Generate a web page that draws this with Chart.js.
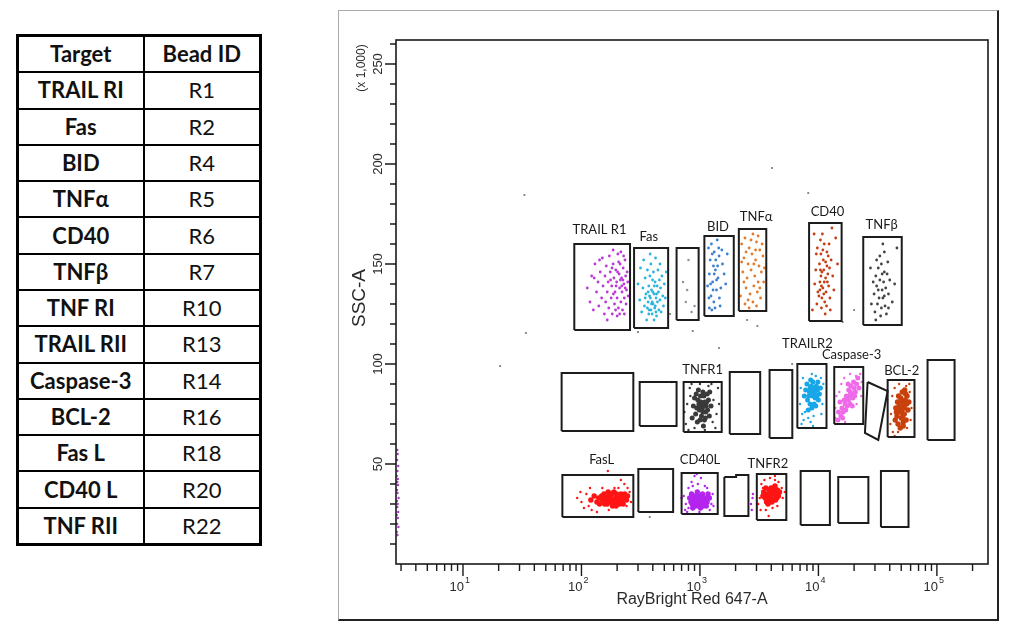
<!DOCTYPE html>
<html>
<head>
<meta charset="utf-8">
<script src="https://cdn.jsdelivr.net/npm/chart.js@4.4.1/dist/chart.umd.min.js"></script>
<style>
    html, body { margin: 0; padding: 0; background: #fff; }
    body { width: 1011px; height: 636px; position: relative; overflow: hidden; font-family: Lato, "Open Sans", sans-serif; }
    #beads { position: absolute; left: 16px; top: 34px; width: 243px; height: 512px; border-collapse: collapse; border: 3px solid #000; table-layout: fixed; }
    #beads td { border: 2px solid #000; text-align: center; padding: 0; height: 34px; font-size: 22px; color: #111; line-height: 1; }
    #beads td.t { font-weight: 700; }
    #frame { position: absolute; left: 338px; top: 10px; width: 661px; height: 611px; box-sizing: border-box; border-left: 1px solid #aaa; border-top: 1px solid #aaa; border-right: 2px solid #222; border-bottom: 2px solid #222; }
    #wrap { position: absolute; left: 338px; top: 10px; width: 661px; height: 611px; }
</style>
</head>
<body>
<table id="beads"></table>
<div id="frame"></div>
<div id="wrap"><canvas id="plot"></canvas></div>
<script>
// table
const targets = ['TRAIL RI', 'Fas', 'BID', 'TNFα', 'CD40', 'TNFβ', 'TNF RI', 'TRAIL RII', 'Caspase-3', 'BCL-2', 'Fas L', 'CD40 L', 'TNF RII'];
const beadIds = ['R1', 'R2', 'R4', 'R5', 'R6', 'R7', 'R10', 'R13', 'R14', 'R16', 'R18', 'R20', 'R22'];

// axes
const xMin = 2.72, xMax = 270000;
const yMin = 0, yMax = 262;
const xMajorTicks = [10, 100, 1000, 10000, 100000];
const xTickExp = ['1', '2', '3', '4', '5'];
const yMajorTicks = [50, 100, 150, 200, 250];
const yTickLabels = ['50', '100', '150', '200', '250'];
const yMinorTicks = [10, 20, 30, 40, 60, 70, 80, 90, 110, 120, 130, 140, 160, 170, 180, 190, 210, 220, 230, 240, 260];
const xTitle = 'RayBright Red 647-A';
const yTitle = 'SSC-A';
const yUnit = '(x 1,000)';

// gates [xLow, xHigh, yLow, yHigh]
const gateBoxes = [
    [87, 257, 117, 160], [278, 539, 118, 158], [635, 975, 122, 158], [1090, 1930, 124, 164],
    [2130, 3630, 126.5, 167.5], [8340, 15700, 121.5, 170.5], [23900, 50500, 119.5, 163.5],
    [68, 274, 66.5, 95.5], [310, 635, 69, 91], [728, 1527, 66, 91], [1785, 3225, 65, 96],
    [3870, 6020, 63, 97], [6640, 11700, 68, 100], [13600, 23900, 70, 98.5], [38400, 64700, 63.5, 92],
    [83400, 141000, 62, 102],
    [69, 274, 23.5, 44.5], [302, 594, 26, 47.5], [700, 1413, 25, 45.5], [3020, 5360, 22, 45],
    [7080, 12500, 19.5, 46.5], [14700, 26400, 20.5, 43.5], [33700, 57600, 18.5, 46.5]
];
const gatePolys = [
    [[26000, 91], [38400, 86.5], [32000, 62], [24700, 65.5]],
    [[1607, 43.5], [2020, 43.5], [2020, 44.5], [2566, 44.5], [2566, 24], [1607, 24]]
];
const gateLabels = ['TRAIL R1', 'Fas', 'BID', 'TNFα', 'CD40', 'TNFβ', 'TNFR1', 'TRAILR2', 'Caspase-3', 'BCL-2', 'FasL', 'CD40L', 'TNFR2'];
const gateLabelX = [142, 370, 1421, 2983, 11920, 34190, 1054, 8070, 19050, 50500, 148, 1000, 3748];
const gateLabelY = [167, 163.5, 168.5, 173.5, 176, 169.5, 97.3, 110.3, 104.5, 96.6, 52, 52, 50.3];

// events [x, y]
const trailR1Events = [[112,138],[118,131],[122,144],[126,127],[130,150],[134,136],[138,141],[140,129],[144,146],[148,133],[150,153],[152,139],[156,125],[158,144],[160,131],[162,149],[165,136],[168,141],[170,128],[172,154],[175,146],[178,133],[180,139],[182,125],[185,150],[188,143],[190,130],[192,136],[195,147],[198,141],[200,133],[203,155],[205,128],[208,145],[210,138],[212,150],[215,131],[218,143],[220,136],[222,127],[225,148],[228,140],[230,133],[233,152],[236,144],[238,130],[240,137],[243,146],[246,141],[248,134],[185,157],[165,122],[200,124],[215,156],[142,152],[128,143],[210,125],[230,125],[196,139],[224,142],[206,151],[176,142],[186,135],[202,146],[219,139],[234,138],[194,127],[227,154],[181,148],[213,142]];
const fasEvents = [[300,140],[310,132],[315,148],[322,126],[330,138],[335,152],[340,129],[345,143],[350,135],[355,122],[360,147],[365,131],[370,139],[372,127],[378,144],[382,133],[385,150],[390,137],[395,125],[398,142],[402,130],[405,146],[410,135],[415,128],[418,141],[422,153],[426,133],[430,124],[435,139],[438,131],[442,147],[446,136],[450,127],[455,142],[460,132],[465,138],[470,126],[478,144],[485,134],[492,129],[500,140],[510,133],[520,146],[360,128],[390,130],[410,122],[370,125],[430,135],[400,136],[345,133],[420,129],[380,155],[460,150],[375,134],[395,131],[412,139],[386,127],[425,126],[366,136]];
const gate3Events = [[720,141],[760,131],[800,152],[850,126],[780,137],[900,129]];
const bidEvents = [[1180,158],[1250,160],[1320,156],[1400,162],[1220,152],[1300,149],[1450,154],[1200,145],[1350,147],[1280,141],[1420,143],[1160,139],[1380,137],[1240,134],[1310,131],[1460,133],[1200,128],[1340,128],[1500,138],[1550,150],[1600,145],[1270,155],[1440,158],[1360,152],[1230,140],[1480,129],[1290,137],[1410,149],[1190,133],[1530,157],[1650,140],[1700,155],[1260,127],[1380,142],[1320,145]];
const tnfaEvents = [[2250,160],[2400,163],[2600,158],[2800,165],[3000,161],[3200,157],[2350,153],[2550,150],[2750,155],[2950,152],[3150,149],[3400,154],[2300,146],[2500,143],[2700,147],[2900,144],[3100,141],[3300,146],[2450,138],[2650,135],[2850,139],[3050,136],[3250,133],[2200,134],[2400,130],[2600,128],[2800,131],[3000,129],[3200,138],[3450,141],[2350,141],[2950,157],[2700,162],[3350,160],[2550,132],[3100,164],[2250,151],[3500,148],[2850,150],[2450,156]];
const cd40Events = [[9800,158],[10500,155],[11200,160],[10200,150],[11000,152],[11800,149],[10700,146],[11500,143],[10300,141],[12000,145],[10900,138],[11600,136],[10100,134],[11300,131],[12200,139],[10600,128],[11400,125],[12500,133],[10400,162],[11800,156],[9500,147],[12800,152],[9300,140],[13200,144],[9700,130],[12600,127],[10800,165],[12300,160],[9900,136],[11900,141],[10700,133],[11100,147],[12100,154],[9600,155],[13500,137],[8900,127],[14500,150],[14000,163],[9200,165],[13000,168],[10500,144],[11700,129],[10300,137],[12400,148],[11200,141],[10900,157],[11500,151],[10400,147],[11100,135],[10600,139]];
const tnfbEvents = [[32000,148],[34000,150],[36000,146],[30500,144],[33000,142],[35500,141],[38000,145],[31000,139],[34500,137],[37000,138],[29500,135],[32500,133],[35000,133],[39000,135],[31500,130],[34000,128],[36500,129],[30000,126],[33500,124],[37500,125],[29000,141],[40000,142],[33000,154],[36000,156],[31000,152],[38500,151],[28000,130],[42000,131],[35000,160],[30500,122],[39000,128],[44000,140],[27500,148],[46000,158],[34500,145],[32000,137],[36000,134]];

const tnfr1Core = [[1050,78],[980,80],[1120,76],[1180,82],[920,75],[1010,84],[1090,72],[1240,79],[880,79],[1060,86],[950,71],[1150,85],[1030,74],[990,77],[1100,81],[1200,74],[900,83],[1070,69],[970,87],[1130,79],[1020,81],[940,78],[1160,77],[1080,84],[860,73],[1000,72],[1210,86],[1040,80],[930,85],[1110,73],[1060,76],[1000,79],[1140,81],[960,82],[1080,79]];
const tnfr1Halo = [[760,70],[780,80],[820,88],[800,67],[850,90],[1300,82],[1380,75],[1420,88],[1350,68],[1250,90],[740,76],[1450,80],[900,68],[1280,71],[830,84],[1180,89],[1000,90],[1100,67]];
const trailR2Core = [[8900,84],[8400,86],[9400,83],[9800,87],[8100,82],[8700,89],[9200,80],[10200,85],[7800,87],[9000,91],[9600,89],[8500,80],[9300,86],[10000,82],[8000,90],[8800,78],[9500,79],[7600,84],[9100,88],[8300,84],[10400,88],[8600,92],[9700,84],[8200,77],[9900,91],[8800,86],[9200,85],[8500,88]];
const trailR2Halo = [[7300,75],[7500,72],[7200,70],[7800,68],[8200,73],[8600,71],[9100,74],[7000,80],[7100,88],[10800,80],[11000,90],[10500,93],[8800,95],[9500,94],[7400,93],[7700,76],[10600,75],[9000,69]];
const casp3Core = [[17950,82],[16800,80],[19000,85],[20000,88],[15800,78],[17200,84],[18500,80],[21000,90],[16200,76],[18000,87],[19500,83],[15500,74],[17500,79],[20500,86],[16500,82],[18800,89],[14800,76],[19800,91],[17000,77],[21500,93],[15200,81],[18200,84],[16000,73],[20200,84],[17800,90],[22000,88],[14600,72],[19300,79],[17400,82],[18600,86]];
const casp3Halo = [[14000,70],[13900,78],[15000,86],[16500,93],[18500,95],[22500,95],[23000,84],[21000,80],[14200,84],[16800,71],[20800,94],[13800,73],[23200,91],[15600,90]];
const bcl2Core = [[50500,77],[48000,79],[53000,75],[55500,80],[46000,74],[49500,83],[52000,71],[57000,77],[45000,78],[51000,86],[54000,82],[47000,70],[50000,73],[56000,84],[48500,76],[52500,79],[44500,72],[53500,87],[49000,68],[58000,81],[46500,81],[51500,74],[55000,72],[47500,84],[50500,81],[53000,78],[45500,76],[49000,77],[54500,85],[52000,69]];
const bcl2Halo = [[41000,75],[40500,70],[42000,84],[44000,88],[48000,90],[55000,89],[59000,86],[61000,78],[60000,72],[42500,66],[47000,66],[56000,68],[58500,90],[44000,64]];

const fasLCore = [[176,32],[160,33],[190,31],[205,33],[150,32],[220,32],[170,34],[185,30],[198,35],[140,33],[230,33],[165,30],[210,30],[180,35],[155,35],[195,33],[215,35],[172,31],[240,32],[135,31],[225,30],[188,36],[162,32],[200,31],[178,33],[148,34],[208,34],[192,32],[168,36],[232,35],[120,32],[245,34],[183,29],[157,30],[218,33],[128,34],[196,29],[174,35],[212,31],[142,30]];
const fasLHalo = [[100,31],[92,33],[110,35],[105,28],[118,38],[135,26],[255,36],[262,31],[230,40],[215,42],[205,38],[115,29],[98,36],[150,38],[245,38],[122,27],[170,27],[190,38],[240,29],[167,46.5]];
const cd40LCore = [[960,31],[900,32],[1020,30],[1080,32],[860,30],[940,34],[1000,33],[1150,31],[820,33],[980,29],[1050,35],[920,29],[1110,33],[880,34],[990,32],[1060,29],[840,31],[1200,33],[950,36],[1030,31],[910,31],[1130,29],[870,28],[970,34],[1090,30],[930,32],[1010,28],[1170,35],[850,35],[1040,33]];
const cd40LHalo = [[760,30],[730,34],[750,27],[800,38],[850,41],[900,44],[960,40],[1100,39],[1250,30],[1280,35],[1300,29],[780,26],[1020,43],[870,39],[700,33],[1210,27],[1150,38],[990,26],[940,45],[800,28],[2700,30],[2780,33],[2740,27],[2800,35],[580,91]];
const tnfr2Core = [[3920,34],[3700,35],[4150,33],[4400,36],[3550,33],[3850,37],[4050,31],[4600,34],[3450,36],[3980,38],[4250,35],[3650,31],[4350,32],[3800,33],[4100,36],[4500,37],[3600,38],[4000,32],[4300,39],[3750,30],[4200,34],[3500,35],[3900,36],[4450,33],[4050,35],[3700,32],[4150,38],[3850,31],[4700,36],[3400,34]];
const tnfr2Halo = [[3200,33],[3100,30],[3300,40],[3500,42],[3900,43],[4300,44],[4600,41],[4900,38],[5000,33],[5200,36],[3250,27],[3600,27],[4100,28],[4500,29],[3800,24],[4300,42],[3400,38]];

const edgeEvents = [[2.8,14.5],[2.76,16],[2.85,18.5],[2.78,20],[2.82,23],[2.76,24.5],[2.84,26],[2.79,28.5],[2.81,30],[2.77,31.5],[2.86,33],[2.8,35.5],[2.77,37],[2.83,39.5],[2.79,41],[2.82,42.5],[2.76,44],[2.8,46.5],[2.84,49],[2.78,52],[2.81,55],[2.79,57]];
const strayEvents = [[33,184.5],[4050,198],[8200,185.5],[34,115.5],[20.6,99],[1450,108],[3050,119],[870,116.5],[20000,127],[377,23.5],[300,116],[560,125],[16000,121],[6000,100],[2500,122]];

// styles
const populations = [
    { data: trailR1Events, color: '#b93ad6', r: 1.4 },
    { data: fasEvents, color: '#2bb4dc', r: 1.4 },
    { data: gate3Events, color: '#8a8fa0', r: 1.2 },
    { data: bidEvents, color: '#3b80d2', r: 1.4 },
    { data: tnfaEvents, color: '#e27b2c', r: 1.4 },
    { data: cd40Events, color: '#c63d14', r: 1.4 },
    { data: tnfbEvents, color: '#444444', r: 1.4 },
    { data: tnfr1Halo, color: '#3a3a3a', r: 1.2 },
    { data: tnfr1Core, color: '#3a3a3a', r: 2.5 },
    { data: trailR2Halo, color: '#17a7e8', r: 1.2 },
    { data: trailR2Core, color: '#17a7e8', r: 2.5 },
    { data: casp3Halo, color: '#ef6ae8', r: 1.2 },
    { data: casp3Core, color: '#ef6ae8', r: 2.5 },
    { data: bcl2Halo, color: '#c8400c', r: 1.2 },
    { data: bcl2Core, color: '#c8400c', r: 2.7 },
    { data: fasLHalo, color: '#ff1414', r: 1.2 },
    { data: fasLCore, color: '#ff1414', r: 2.7 },
    { data: cd40LHalo, color: '#b424ee', r: 1.2 },
    { data: cd40LCore, color: '#b424ee', r: 2.7 },
    { data: tnfr2Halo, color: '#ff1414', r: 1.2 },
    { data: tnfr2Core, color: '#ff1414', r: 2.7 },
    { data: edgeEvents, color: '#b03ad0', r: 1.2 },
    { data: strayEvents, color: '#777777', r: 1.1 }
];

function toXY(list) {
    return list.map(p => ({ x: p[0], y: p[1] }));
}

function buildTable() {
    let table = document.getElementById('beads');
    let html = '<colgroup><col style="width:126px"><col style="width:117px"></colgroup>';
    html += '<tr><td class="t">Target</td><td class="t">Bead ID</td></tr>';
    for (let i = 0; i < targets.length; i++) {
        html += '<tr><td class="t">' + targets[i] + '</td><td>' + beadIds[i] + '</td></tr>';
    }
    table.innerHTML = html;
}

const axesPlugin = {
    id: 'facsAxes',
    afterDraw(c) {
        const ctx = c.ctx;
        const a = c.chartArea;
        const xs = c.scales.x, ys = c.scales.y;
        ctx.save();

        // plot box
        ctx.strokeStyle = '#1a1a1a';
        ctx.lineWidth = 1.6;
        ctx.strokeRect(a.left, a.top, a.right - a.left, a.bottom - a.top);

        // x ticks (log decades, 2..9 minors)
        ctx.lineWidth = 1.4;
        ctx.beginPath();
        for (let d = 1; d <= 100000; d *= 10) {
            for (let k = 1; k <= 9; k++) {
                let v = d * k;
                if (v < xMin || v > xMax) continue;
                let px = xs.getPixelForValue(v);
                let len = k === 1 ? 12 : 7;
                ctx.moveTo(px, a.bottom);
                ctx.lineTo(px, a.bottom + len);
            }
        }
        // y ticks
        yMajorTicks.forEach(v => {
            let py = ys.getPixelForValue(v);
            ctx.moveTo(a.left, py);
            ctx.lineTo(a.left - 11, py);
        });
        yMinorTicks.forEach(v => {
            let py = ys.getPixelForValue(v);
            ctx.moveTo(a.left, py);
            ctx.lineTo(a.left - 6, py);
        });
        ctx.stroke();

        // x tick labels 10^n
        ctx.fillStyle = '#2a2a2a';
        ctx.textBaseline = 'middle';
        xMajorTicks.forEach((v, i) => {
            let px = xs.getPixelForValue(v);
            ctx.font = '13px "Liberation Sans", Arial, sans-serif';
            ctx.textAlign = 'right';
            ctx.fillText('10', px + 1, a.bottom + 23);
            ctx.font = '9px "Liberation Sans", Arial, sans-serif';
            ctx.textAlign = 'left';
            ctx.fillText(xTickExp[i], px + 2, a.bottom + 17);
        });

        // y tick labels, rotated
        ctx.font = '13px "Liberation Sans", Arial, sans-serif';
        ctx.textAlign = 'center';
        yMajorTicks.forEach((v, i) => {
            let py = ys.getPixelForValue(v);
            ctx.save();
            ctx.translate(a.left - 18, py);
            ctx.rotate(-Math.PI / 2);
            ctx.fillText(yTickLabels[i], 0, 0);
            ctx.restore();
        });
        ctx.save();
        ctx.font = '12px "Liberation Sans", Arial, sans-serif';
        ctx.translate(a.left - 34, ys.getPixelForValue(250) + 4);
        ctx.rotate(-Math.PI / 2);
        ctx.fillText(yUnit, 0, 0);
        ctx.restore();

        // axis titles
        ctx.save();
        ctx.font = '19px "Liberation Sans", Arial, sans-serif';
        ctx.translate(a.left - 36, (a.top + a.bottom) / 2 - 4);
        ctx.rotate(-Math.PI / 2);
        ctx.fillText(yTitle, 0, 0);
        ctx.restore();
        ctx.font = '16px "Liberation Sans", Arial, sans-serif';
        ctx.fillText(xTitle, (a.left + a.right) / 2, a.bottom + 36);

        // gate names
        ctx.font = '13px Lato, "Open Sans", sans-serif';
        ctx.fillStyle = '#1a1a1a';
        gateLabels.forEach((t, i) => {
            ctx.fillText(t, xs.getPixelForValue(gateLabelX[i]), ys.getPixelForValue(gateLabelY[i]));
        });
        ctx.restore();
    }
};

document.addEventListener("DOMContentLoaded", function () {
    buildTable();

    let datasets = [];
    populations.forEach(p => {
        datasets.push({
            data: toXY(p.data),
            pointRadius: p.r,
            pointBackgroundColor: p.color,
            pointBorderWidth: 0,
            showLine: false,
            order: 1
        });
    });
    gateBoxes.forEach(g => {
        datasets.push({
            data: toXY([[g[0], g[2]], [g[1], g[2]], [g[1], g[3]], [g[0], g[3]], [g[0], g[2]]]),
            showLine: true,
            borderColor: '#1c1c1c',
            borderWidth: 2,
            pointRadius: 0,
            tension: 0,
            fill: false,
            order: 0
        });
    });
    gatePolys.forEach(g => {
        datasets.push({
            data: toXY(g.concat([g[0]])),
            showLine: true,
            borderColor: '#1c1c1c',
            borderWidth: 2,
            pointRadius: 0,
            tension: 0,
            fill: false,
            order: 0
        });
    });

    new Chart("plot", {
        type: "scatter",
        data: { datasets: datasets },
        options: {
            responsive: true,
            maintainAspectRatio: false,
            animation: false,
            events: [],
            layout: { padding: { left: 58, top: 30, right: 11, bottom: 57 } },
            plugins: { legend: { display: false }, tooltip: { enabled: false } },
            scales: {
                x: { type: 'logarithmic', min: xMin, max: xMax, display: false },
                y: { type: 'linear', min: yMin, max: yMax, display: false }
            }
        },
        plugins: [axesPlugin]
    });
});
</script>
</body>
</html>
